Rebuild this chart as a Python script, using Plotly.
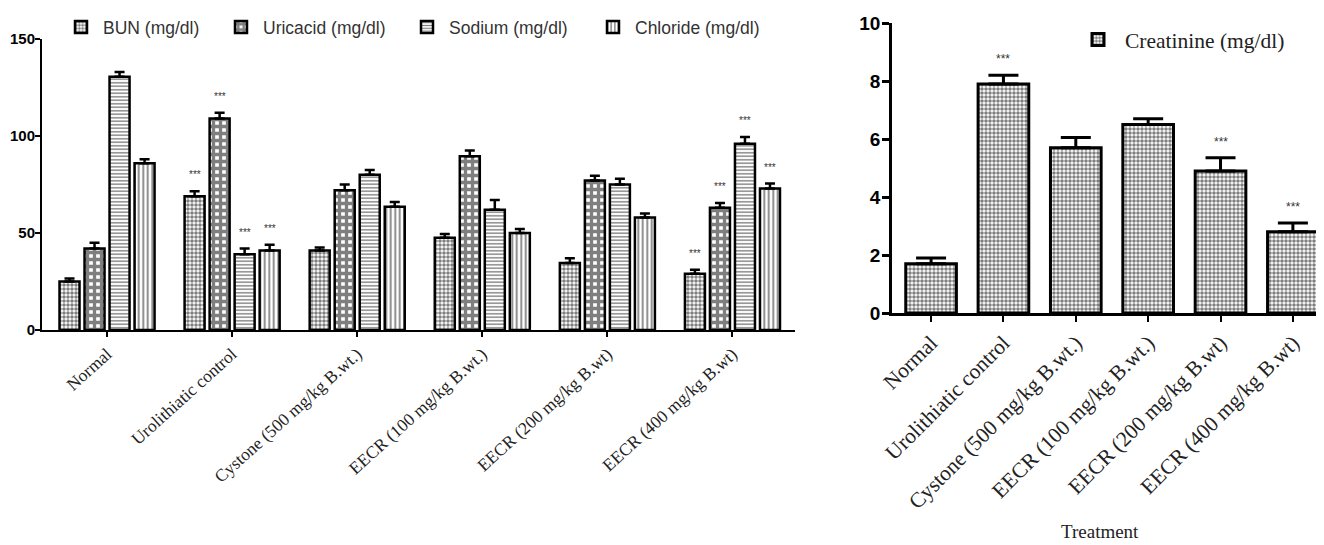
import plotly.graph_objects as go

groups = ["Normal", "Urolithiatic control", "Cystone (500 mg/kg B.wt.)",
          "EECR (100 mg/kg B.wt.)", "EECR (200 mg/kg B.wt)", "EECR (400 mg/kg B.wt)"]
groups_right = ["Normal", "Urolithiatic control", "Cystone (500 mg/kg B.wt.)",
                "EECR (100 mg/kg B.wt.)", "EECR (200 mg/kg B.wt)", "EECR (400 mg/kg B.wt)"]

series_names = ["BUN (mg/dl)", "Uricacid (mg/dl)", "Sodium (mg/dl)", "Chloride (mg/dl)"]
bun = [25, 69, 41, 47.5, 34.5, 29]
bun_err = [1.5, 2.5, 1.5, 2, 2.5, 2]
uric = [42, 109, 72, 89.5, 77, 63]
uric_err = [3, 3, 3, 3, 2.5, 2.5]
sodium = [130.5, 39, 80, 62, 75, 96]
sodium_err = [2.5, 3, 2.5, 5, 3, 3.5]
chloride = [86, 41, 63.5, 50, 58, 73]
chloride_err = [2, 3, 2.5, 2, 2, 2.5]

creat = [1.7, 7.9, 5.7, 6.5, 4.9, 2.8]
creat_err = [0.2, 0.3, 0.35, 0.2, 0.45, 0.3]

# significance markers: (group index, series index)
stars_left = [(1, 0), (1, 1), (1, 2), (1, 3), (5, 0), (5, 1), (5, 2), (5, 3)]
stars_right = [1, 4, 5]

left_ticks = [0, 50, 100, 150]
right_ticks = [0, 2, 4, 6, 8, 10]

OFF = 8  # browser body margin
W, H = 1324 - OFF, 545 - OFF


def fx(px):
    return (px - OFF) / W


def fy(py):
    return (H - (py - OFF)) / H


patterns = [
    dict(shape=".", size=4, solidity=0.62, fgcolor="black", bgcolor="white"),
    dict(shape="+", size=7, solidity=0.72, fgcolor="black", bgcolor="white"),
    dict(shape="-", size=3.5, solidity=0.4, fgcolor="black", bgcolor="white"),
    dict(shape="|", size=4.5, solidity=0.4, fgcolor="black", bgcolor="white"),
]
legend_ids = ["legend", "legend3", "legend4", "legend5"]
legend_x = [59, 219, 405, 591]
vals = [bun, uric, sodium, chloride]
errs = [bun_err, uric_err, sodium_err, chloride_err]
xs = list(range(len(groups)))

fig = go.Figure()
for j in range(4):
    fig.add_trace(go.Bar(
        x=xs, y=vals[j], name=series_names[j],
        marker=dict(color="white", pattern=patterns[j], line=dict(color="black", width=2.5)),
        error_y=dict(type="data", array=errs[j], arrayminus=[0]*6, symmetric=False,
                     color="black", thickness=2.5, width=5),
        xaxis="x", yaxis="y", legend=legend_ids[j],
    ))

fig.add_trace(go.Bar(
    x=xs, y=creat, name="Creatinine (mg/dl)",
    marker=dict(color="white", pattern=dict(shape=".", size=4, solidity=0.62, fgcolor="black", bgcolor="white"),
                line=dict(color="black", width=3)),
    error_y=dict(type="data", array=creat_err, arrayminus=[0]*6, symmetric=False,
                 color="black", thickness=3, width=15),
    xaxis="x2", yaxis="y2", legend="legend2", width=0.7,
))

ann = []
for (g, s) in stars_left:
    ann.append(dict(x=g + (s - 1.5) * 0.2, y=vals[s][g] + errs[s][g], xref="x", yref="y",
                    text="***", showarrow=False, yanchor="bottom", yshift=9,
                    font=dict(family="Liberation Sans", size=10, color="#333")))
for g in stars_right:
    ann.append(dict(x=g, y=creat[g] + creat_err[g], xref="x2", yref="y2",
                    text="***", showarrow=False, yanchor="bottom", yshift=7,
                    font=dict(family="Liberation Sans", size=12, color="#333")))
ann.append(dict(x=fx(1100), y=fy(531), xref="paper", yref="paper", text="Treatment",
                showarrow=False, xanchor="center", yanchor="middle",
                font=dict(family="Liberation Serif", size=19, color="#222")))

legend_common = dict(orientation="h", xanchor="left", yanchor="top", bgcolor="rgba(0,0,0,0)",
                     font=dict(family="Liberation Sans", size=17.5, color="#333"), itemwidth=34)

fig.update_layout(
    width=W, height=H, margin=dict(l=0, r=0, t=0, b=0),
    paper_bgcolor="white", plot_bgcolor="white",
    barmode="group", bargap=0.2, bargroupgap=0.2,
    showlegend=True,
    xaxis=dict(domain=[fx(42), fx(795)], range=[-0.52, 5.5], tickvals=xs, ticktext=groups,
               tickangle=-42, showline=True, linecolor="black", linewidth=2,
               ticks="outside", ticklen=5, tickwidth=2, tickcolor="black",
               showgrid=False, zeroline=False, automargin=False,
               tickfont=dict(family="Liberation Serif", size=17.5, color="#222"), anchor="y"),
    yaxis=dict(domain=[fy(330), fy(39)], range=[0, 150], tickvals=left_ticks,
               showline=True, linecolor="black", linewidth=2,
               ticks="outside", ticklen=5, tickwidth=2, tickcolor="black",
               showgrid=False, zeroline=False, automargin=False, ticklabelstandoff=-3,
               tickfont=dict(family="Liberation Sans", size=15, color="black", weight="bold"), anchor="x"),
    xaxis2=dict(domain=[fx(892), 1.0], range=[-0.54, 5.43], tickvals=xs, ticktext=groups_right,
                tickangle=-45, showline=True, linecolor="black", linewidth=2.5,
                ticks="outside", ticklen=6, tickwidth=2, tickcolor="black",
                showgrid=False, zeroline=False, automargin=False,
                tickfont=dict(family="Liberation Serif", size=21.5, color="#222"), anchor="y2"),
    yaxis2=dict(domain=[fy(313), fy(23)], range=[0, 10], tickvals=right_ticks,
                showline=True, linecolor="black", linewidth=2.5,
                ticks="outside", ticklen=7, tickwidth=2.5, tickcolor="black",
                showgrid=False, zeroline=False, automargin=False, ticklabelstandoff=-2,
                tickfont=dict(family="Liberation Sans", size=19, color="black", weight="bold"), anchor="x2"),
    legend=dict(x=fx(legend_x[0]), y=fy(9), **legend_common),
    legend3=dict(x=fx(legend_x[1]), y=fy(9), **legend_common),
    legend4=dict(x=fx(legend_x[2]), y=fy(9), **legend_common),
    legend5=dict(x=fx(legend_x[3]), y=fy(9), **legend_common),
    legend2=dict(x=fx(1071), y=fy(19), xanchor="left", yanchor="top", itemwidth=44,
                 bgcolor="rgba(0,0,0,0)", font=dict(family="Liberation Serif", size=21.5, color="#222")),
    annotations=ann,
)

fig.write_html("out.html")
